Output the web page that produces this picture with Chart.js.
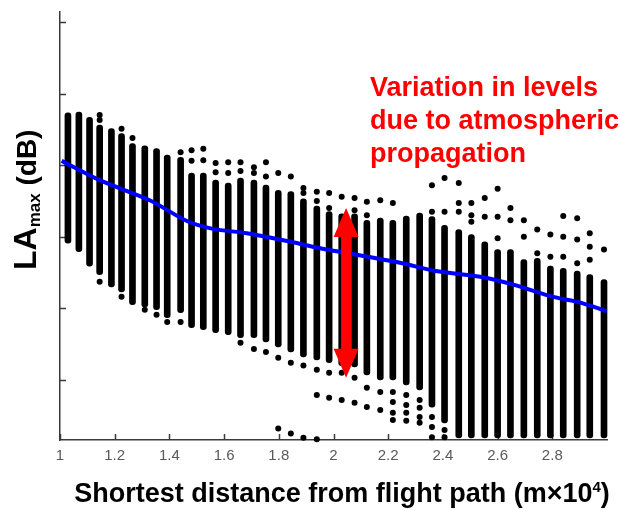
<!DOCTYPE html>
<html><head><meta charset="utf-8">
<script src="https://cdn.jsdelivr.net/npm/chart.js@4"></script>
<style>html,body{margin:0;padding:0;background:#fff}canvas{display:block}</style>
</head><body>
<canvas id="c" width="620" height="511"></canvas>
<script>
// ---- data (distance in m×10^4, level in dB) ----
const colX = [1.029,1.069,1.108,1.145,1.188,1.225,1.265,1.310,1.353,1.392,1.441,1.481,1.524,1.569,1.615,1.660,1.709,1.753,1.798,1.844,1.890,1.939,1.984,2.030,2.077,2.122,2.171,2.217,2.266,2.315,2.360,2.406,2.458,2.504,2.553,2.600,2.647,2.696,2.745,2.793,2.840,2.891,2.937,2.989];
const colTop = [87.3,87.4,86.7,85.6,85.1,84.4,83.0,82.7,82.3,81.4,81.1,78.9,78.9,77.9,77.5,78.2,77.9,77.2,76.5,76.3,75.3,74.3,73.5,73.2,73.2,72.3,72.6,72.3,72.9,73.3,72.8,71.6,71.0,70.3,69.3,68.2,68.2,66.8,67.0,65.9,65.6,65.2,64.7,64.0];
const colBottom = [69.1,67.9,65.9,64.7,63.0,62.3,60.5,60.2,59.8,58.7,59.4,57.3,57.0,56.6,56.3,55.9,55.9,55.3,54.6,53.9,53.2,52.8,52.4,52.0,51.8,50.7,50.0,50.0,49.3,48.6,46.2,44.0,41.9,41.9,41.9,41.9,41.9,41.9,41.9,41.9,41.9,41.9,41.9,41.9];
const outX = [1.145,1.145,1.225,1.265,1.441,1.481,1.481,1.524,1.524,1.569,1.569,1.615,1.615,1.660,1.660,1.709,1.709,1.753,1.753,1.798,1.844,1.890,1.890,1.939,1.939,1.984,1.984,2.030,2.077,2.077,2.122,2.122,2.171,2.217,2.360,2.360,2.406,2.406,2.458,2.458,2.458,2.504,2.504,2.504,2.553,2.553,2.600,2.600,2.600,2.647,2.647,2.696,2.696,2.745,2.745,2.793,2.793,2.840,2.840,2.840,2.891,2.891,2.891,2.937,2.937,2.937,2.989,
  1.145,1.225,1.310,1.353,1.392,1.441,1.660,1.709,1.753,1.798,1.844,1.890,1.939,1.939,1.984,1.984,2.030,2.030,2.077,2.077,2.122,2.122,2.171,2.171,2.217,2.217,2.217,2.217,2.266,2.266,2.266,2.266,2.315,2.315,2.315,2.315,2.360,2.360,2.360,2.406,2.406,1.798,1.844,1.890,1.939];
const outY = [87.0,86.3,85.1,83.8,81.8,82.1,80.6,82.3,80.7,80.3,79.0,80.4,78.9,80.4,79.2,79.7,78.9,80.4,78.4,78.9,78.4,76.8,76.1,76.3,75.0,76.1,74.0,75.6,75.4,73.7,74.9,73.0,75.1,74.7,77.2,73.5,78.2,73.5,77.5,74.7,73.5,74.7,73.0,72.1,75.4,72.8,76.7,72.8,69.8,74.0,72.3,72.3,70.0,71.0,67.7,70.3,67.2,72.9,70.0,67.2,72.6,69.6,66.3,70.5,68.6,66.8,68.2,
  63.7,61.6,59.8,59.1,58.1,58.1,55.2,54.3,53.9,53.1,52.4,52.0,51.4,47.9,51.0,47.5,51.0,47.2,50.3,46.8,48.9,46.2,48.3,45.8,48.3,46.9,45.4,44.4,47.9,46.5,45.4,44.3,47.2,46.1,44.8,44.0,44.8,43.4,42.0,43.0,42.0,43.2,42.5,41.9,41.7];
const meanX = [1.006,1.145,1.328,1.464,1.559,1.683,1.830,1.951,2.127,2.252,2.373,2.537,2.658,2.804,2.903,2.999];
const meanY = [80.6,77.9,75.1,72.2,71.1,70.5,69.4,68.4,67.2,66.3,65.2,64.4,63.3,61.6,60.8,59.6];
const xTickValues = [1,1.2,1.4,1.6,1.8,2,2.2,2.4,2.6,2.8];
const xTickLabels = ['1','1.2','1.4','1.6','1.8','2','2.2','2.4','2.6','2.8'];
const yTickValues = [50,60,70,80,90,100];
const arrowX = [2.046];
const arrowSpan = [50.3, 74.0];
const noteLines = ['Variation in levels','due to atmospheric','propagation'];
const xTitleParts = ['Shortest distance from flight path (m\u00d710','4',')'];
const yTitleParts = ['LA','max',' (dB)'];

const FONT = '"Liberation Sans", Arial, Helvetica, sans-serif';

const deco = {
  id: 'deco',
  beforeDatasetsDraw(chart) {
    const {ctx, chartArea: a, scales: {x, y}} = chart;
    ctx.save();
    ctx.strokeStyle = '#3a3a3a'; ctx.lineWidth = 1.5;
    ctx.beginPath();
    yTickValues.forEach(v => { const py = Math.round(y.getPixelForValue(v)) + 0.5; ctx.moveTo(a.left, py); ctx.lineTo(a.left + 6, py); });
    xTickValues.forEach(v => { const px = Math.round(x.getPixelForValue(v)) + 0.5; ctx.moveTo(px, a.bottom); ctx.lineTo(px, a.bottom - 6); });
    ctx.stroke();
    ctx.restore();
  },
  afterDraw(chart) {
    const {ctx, scales: {x, y}} = chart;
    ctx.save();
    // arrow
    const px = x.getPixelForValue(arrowX[0]);
    const yt = y.getPixelForValue(arrowSpan[1]);
    const yb = y.getPixelForValue(arrowSpan[0]);
    const hl = 29, hw = 12.5, sw = 5;
    ctx.fillStyle = '#ff0000';
    ctx.beginPath();
    ctx.moveTo(px, yt);
    ctx.lineTo(px + hw, yt + hl); ctx.lineTo(px + sw, yt + hl);
    ctx.lineTo(px + sw, yb - hl); ctx.lineTo(px + hw, yb - hl);
    ctx.lineTo(px, yb);
    ctx.lineTo(px - hw, yb - hl); ctx.lineTo(px - sw, yb - hl);
    ctx.lineTo(px - sw, yt + hl); ctx.lineTo(px - hw, yt + hl);
    ctx.closePath(); ctx.fill();
    // note
    ctx.font = 'bold 27px ' + FONT;
    ctx.textBaseline = 'alphabetic'; ctx.textAlign = 'left';
    noteLines.forEach((t, i) => ctx.fillText(t, 370, 96 + i * 33));
    // x title
    ctx.fillStyle = '#000';
    const f1 = 'bold 27px ' + FONT, f2 = 'bold 15px ' + FONT;
    ctx.font = f1; const w0 = ctx.measureText(xTitleParts[0]).width, w2 = ctx.measureText(xTitleParts[2]).width;
    ctx.font = f2; const w1 = ctx.measureText(xTitleParts[1]).width;
    let sx = 342 - (w0 + w1 + w2) / 2; const by = 502;
    ctx.font = f1; ctx.fillText(xTitleParts[0], sx, by); sx += w0;
    ctx.font = f2; ctx.fillText(xTitleParts[1], sx, by - 10); sx += w1;
    ctx.font = f1; ctx.fillText(xTitleParts[2], sx, by);
    // y title
    ctx.translate(36, 270); ctx.rotate(-Math.PI / 2);
    const g1 = 'bold 32px ' + FONT, g2 = 'bold 17px ' + FONT, g3 = 'bold 28px ' + FONT;
    let tx = 0;
    ctx.font = g1; ctx.fillText(yTitleParts[0], tx, 0); tx += ctx.measureText(yTitleParts[0]).width;
    ctx.font = g2; ctx.fillText(yTitleParts[1], tx, 4); tx += ctx.measureText(yTitleParts[1]).width;
    ctx.font = g3; ctx.fillText(yTitleParts[2], tx, 0);
    ctx.restore();
  }
};

new Chart(document.getElementById('c'), {
  type: 'scatter',
  data: {
    datasets: [
      { type: 'line', order: 0, data: meanX.map((v, i) => ({x: v, y: meanY[i]})),
        borderColor: '#0000ff', borderWidth: 4, pointRadius: 0, tension: 0.3, fill: false, clip: 4 },
      { type: 'scatter', order: 1, data: outX.map((v, i) => ({x: v, y: outY[i]})),
        backgroundColor: '#000', borderWidth: 0, pointRadius: 3, clip: 6 },
      { type: 'bar', order: 2, data: colX.map((v, i) => ({x: v, y: [colBottom[i], colTop[i]]})),
        backgroundColor: '#000', barThickness: 6, borderRadius: 3, borderSkipped: false, clip: 6 }
    ]
  },
  options: {
    responsive: false, animation: false, devicePixelRatio: 1,
    layout: {padding: {top: 12, right: 13, left: 0, bottom: 0}},
    plugins: {legend: {display: false}, tooltip: {enabled: false}},
    scales: {
      x: { type: 'linear', position: 'bottom', min: 1, max: 3, offset: false,
        grid: {display: false, drawTicks: false, offset: false},
        border: {display: true, color: '#3a3a3a', width: 1.5},
        afterBuildTicks: s => { s.ticks = xTickValues.map(v => ({value: v})); },
        afterFit: s => { s.height = 71; },
        ticks: {autoSkip: false, maxRotation: 0, padding: 7, color: '#595959',
          font: {family: FONT, size: 15}, callback: (v, i) => xTickLabels[i]} },
      y: { type: 'linear', position: 'left', min: 41.6, max: 101.4,
        grid: {display: false, drawTicks: false},
        border: {display: true, color: '#3a3a3a', width: 1.5},
        afterBuildTicks: s => { s.ticks = yTickValues.map(v => ({value: v})); },
        afterFit: s => { s.width = 60; },
        ticks: {display: false} }
    }
  },
  plugins: [deco]
});
</script>
</body></html>
